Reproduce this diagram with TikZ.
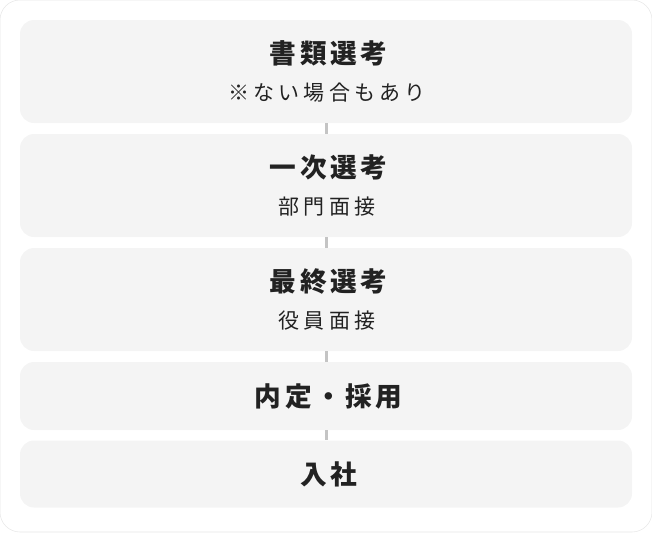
\documentclass[tikz,border=0pt]{standalone}
\usepackage{fontspec}
\newfontfamily\jptitle[LetterSpace=13]{Noto Sans CJK JP}
\newfontfamily\jpsub[LetterSpace=20]{Noto Sans CJK JP}
\definecolor{boxgray}{HTML}{F4F4F4}
\definecolor{linkgray}{HTML}{C4C4C4}
\definecolor{framegray}{HTML}{E6E6E6}
\definecolor{ink}{HTML}{222222}
\begin{document}
\begin{tikzpicture}[x=0.75pt,y=-0.75pt,line join=round,
	stage/.style={fill=boxgray,rounded corners=10.5pt,minimum width=459pt,inner sep=0pt},
	title/.style={font=\jptitle\bfseries\fontsize{20}{20}\selectfont,text=ink,inner sep=0pt},
	sub/.style={font=\jpsub\fontsize{15.75}{15.75}\selectfont,text=ink,inner sep=0pt},
	link/.style={draw=linkgray,line width=2.25pt}]
		\useasboundingbox (0,0) rectangle (652,532);
		\draw[framegray,rounded corners=15pt] (0,0) rectangle (652,532);
		% stages
		\node[stage,minimum height=77.25pt] (s1) at (326,71.5) {};
		\node[stage,minimum height=77.25pt] (s2) at (326,185.5) {};
		\node[stage,minimum height=77.25pt] (s3) at (326,299.5) {};
		\node[stage,minimum height=51pt] (s4) at (326,396) {};
		\node[stage,minimum height=50.25pt] (s5) at (326,474) {};
		% connectors
		\draw[link] (s1.south) -- (s2.north);
		\draw[link] (s2.south) -- (s3.north);
		\draw[link] (s3.south) -- (s4.north);
		\draw[link] (s4.south) -- (s5.north);
		% texts
		\node[title] (t1) at (328.5,53) {書類選考};
		\node[sub] (u1) at (327,93) {※ない場合もあり};
		\node[title] (t2) at (328.5,167.5) {一次選考};
		\node[sub] (u2) at (327,207) {部門面接};
		\node[title] (t3) at (328.5,281.5) {最終選考};
		\node[sub] (u3) at (327,321) {役員面接};
		\node[title] (t4) at (328.5,396) {内定・採用};
		\node[title] (t5) at (328.5,474) {入社};
\end{tikzpicture}
\end{document}
